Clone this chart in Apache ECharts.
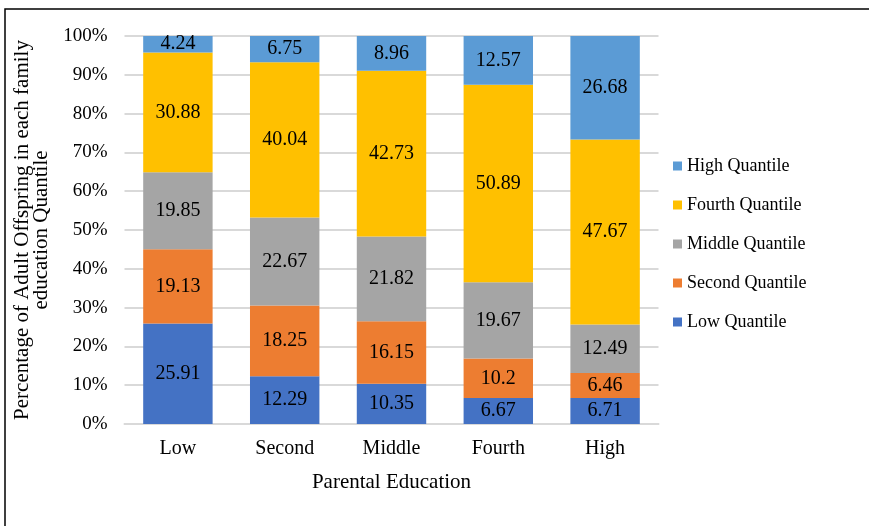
<!DOCTYPE html>
<html>
<head>
<meta charset="utf-8">
<script src="https://cdn.jsdelivr.net/npm/echarts@6/dist/echarts.min.js"></script>
<style>
  html, body { margin: 0; padding: 0; background: #fff; }
  #app { width: 869px; height: 526px; }
</style>
</head>
<body>
<div id="app"></div>
<script>
var categories = ['Low', 'Second', 'Middle', 'Fourth', 'High'];
var lowQ = [25.91, 12.29, 10.35, 6.67, 6.71];
var secondQ = [19.13, 18.25, 16.15, 10.2, 6.46];
var middleQ = [19.85, 22.67, 21.82, 19.67, 12.49];
var fourthQ = [30.88, 40.04, 42.73, 50.89, 47.67];
var highQ = [4.24, 6.75, 8.96, 12.57, 26.68];

var font = 'Liberation Serif';
var myChart = echarts.init(document.getElementById('app'));

function bar(name, data, color) {
  return {
    name: name,
    type: 'bar',
    stack: 'total',
    barWidth: '65%',
    data: data,
    itemStyle: { color: color },
    label: {
      show: true,
      position: 'inside',
      color: '#000',
      fontFamily: font,
      fontSize: 20
    }
  };
}

var option = {
  animation: false,
  textStyle: { fontFamily: font },
  graphic: [{
    type: 'rect',
    shape: { x: 5, y: 9, width: 900, height: 600 },
    style: { fill: 'none', stroke: '#000', lineWidth: 1.5 },
    silent: true
  }],
  grid: { left: 124.5, right: 210.5, top: 36, bottom: 102 },
  legend: {
    orient: 'vertical',
    left: 668,
    top: 152,
    itemWidth: 9,
    itemHeight: 9,
    itemGap: 21,
    itemTextGap: 4,
    icon: 'rect',
    textStyle: { fontFamily: font, fontSize: 18, color: '#000' },
    data: ['High Quantile', 'Fourth Quantile', 'Middle Quantile', 'Second Quantile', 'Low Quantile']
  },
  xAxis: {
    type: 'category',
    data: categories,
    name: 'Parental Education',
    nameLocation: 'middle',
    nameGap: 48,
    nameTextStyle: { fontFamily: font, fontSize: 21, color: '#000' },
    axisTick: { show: false },
    axisLine: { lineStyle: { color: '#d9d9d9', width: 2 } },
    axisLabel: { fontFamily: font, fontSize: 20, color: '#000', margin: 15 }
  },
  yAxis: {
    type: 'value',
    min: 0,
    max: 100,
    interval: 10,
    name: 'Percentage of Adult Offspring in each family\neducation Quantile',
    nameLocation: 'middle',
    nameRotate: 90,
    nameGap: 68,
    nameTextStyle: { fontFamily: font, fontSize: 21, color: '#000', lineHeight: 19 },
    axisLabel: { formatter: '{value}%', fontFamily: font, fontSize: 19, color: '#000', margin: 17 },
    splitLine: { lineStyle: { color: '#d9d9d9', width: 2 } },
    axisLine: { show: false },
    axisTick: { show: false }
  },
  series: [
    bar('Low Quantile', lowQ, '#4472C4'),
    bar('Second Quantile', secondQ, '#ED7D31'),
    bar('Middle Quantile', middleQ, '#A5A5A5'),
    bar('Fourth Quantile', fourthQ, '#FFC000'),
    bar('High Quantile', highQ, '#5B9BD5')
  ]
};

myChart.setOption(option);
</script>
</body>
</html>
